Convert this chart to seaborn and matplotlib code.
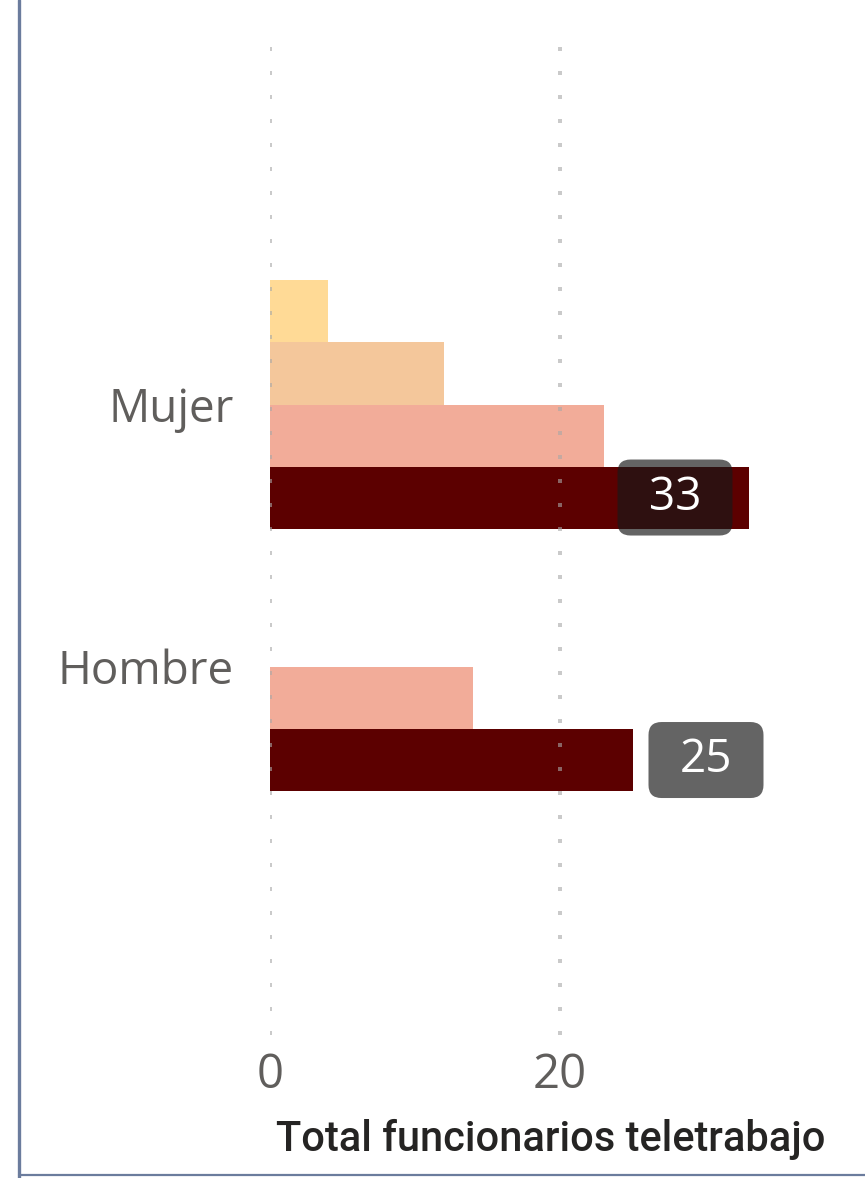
import numpy as np
import pandas as pd
import matplotlib
matplotlib.use("Agg")
import matplotlib.pyplot as plt
import seaborn as sns
from matplotlib.patches import FancyBboxPatch
from matplotlib.transforms import IdentityTransform
from matplotlib.lines import Line2D

# ---- data ----
categories = ["Mujer", "Hombre"]
series = ["Serie 1", "Serie 2", "Serie 3", "Serie 4"]
mujer_values = [4, 12, 23, 33]
hombre_values = [np.nan, np.nan, 14, 25]
series_colors = ["#FFDA96", "#F4C79B", "#F2AC99", "#5C0000"]
x_ticks = [0, 20]
x_title = "Total funcionarios teletrabajo"
labelled_series = "Serie 4"

rows = []
for cat, vals in zip(categories, [mujer_values, hombre_values]):
    for s, v in zip(series, vals):
        if not np.isnan(v):
            rows.append({"categoria": cat, "serie": s, "valor": v})
df = pd.DataFrame(rows)

sns.set_theme(style="white")
plt.rcParams["font.family"] = ["Open Sans", "DejaVu Sans"]

W, H = 865, 1178
top_px, bot_px = 37, 1034.5
fig = plt.figure(figsize=(W / 100, H / 100), dpi=100)
ax = fig.add_axes([270 / W, 1 - bot_px / H, 580 / W, (bot_px - top_px) / H])

sns.barplot(data=df, y="categoria", x="valor", hue="serie", order=categories,
            hue_order=series, palette=series_colors, orient="h", width=0.945,
            gap=0, saturation=1, linewidth=0, errorbar=None, legend=False, ax=ax)

ax.set_xlim(0, 40)
ax.set_ylim(2.4, -1.4)
ax.set_xticks(x_ticks)
ax.set_xticklabels([str(t) for t in x_ticks])
for s in ax.spines.values():
    s.set_visible(False)
ax.set_axisbelow(False)
ax.xaxis.grid(True, color="#a8a8a8", alpha=0.6, linestyle=(0, (1, 5)), linewidth=2.88)
ax.yaxis.grid(False)
ax.tick_params(axis="y", length=0, pad=26, labelsize=33, labelcolor="#605E5C")
ax.tick_params(axis="x", length=0, pad=12, labelsize=34, labelcolor="#605E5C")
ax.set_ylabel("")
ax.set_xlabel(x_title, fontsize=30, fontweight=500, color="#252423",
              family=["Liberation Sans Narrow", "Roboto", "DejaVu Sans"])
ax.xaxis.set_label_coords(0.4845, -0.085)

# ---- data labels on the dark series ----
fig.canvas.draw()
cont = ax.containers[series.index(labelled_series)]
box_w, box_h, gap_px = 115, 76, 16
for bar in cont:
    w = bar.get_width()
    if not np.isfinite(w) or w == 0:
        continue
    yc = bar.get_y() + bar.get_height() / 2
    xe, ye = ax.transData.transform((w, yc))
    if xe + gap_px + box_w <= W - 5:
        x0 = xe + gap_px
    else:
        x0 = xe - gap_px - box_w
    box = FancyBboxPatch((x0, ye - box_h / 2), box_w, box_h,
                         boxstyle="round,pad=0,rounding_size=13",
                         transform=IdentityTransform(), facecolor="#181818",
                         alpha=0.67, edgecolor="none", clip_on=False, zorder=5)
    ax.add_artist(box)
    ax.text(x0 + box_w / 2, ye, f"{int(w)}", transform=IdentityTransform(),
            ha="center", va="center", fontsize=33, color="white", zorder=6)

# ---- frame lines ----
fig.add_artist(Line2D([19 / W, 19 / W], [0, 1], transform=fig.transFigure,
                      color="#6B7C9D", linewidth=2.4))
fig.add_artist(Line2D([19 / W, 1], [3 / H, 3 / H], transform=fig.transFigure,
                      color="#6B7C9D", linewidth=1.6))

fig.savefig("out.png", dpi=100)
